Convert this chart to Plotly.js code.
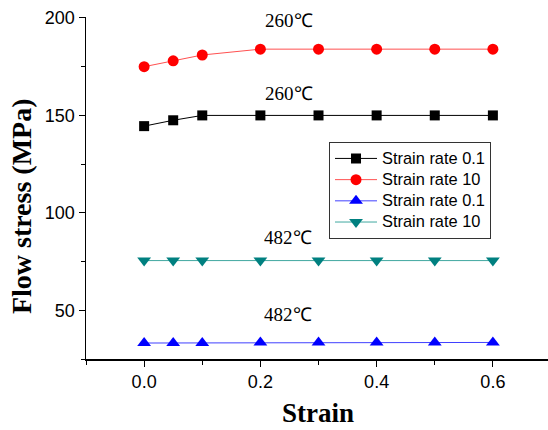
<!DOCTYPE html>
<html><head><meta charset="utf-8">
<script src="https://cdn.plot.ly/plotly-3.0.1.min.js"></script>
<style>html,body{margin:0;padding:0;background:#fff}#c{width:548px;height:430px}</style>
</head><body><div id="c"></div>
<script>
const strain = [0, 0.05, 0.1, 0.2, 0.3, 0.4, 0.5, 0.6];
const s260_01 = [144.5, 147.5, 150, 150, 150, 150, 150, 150];
const s260_10 = [175, 178, 181, 184, 184, 184, 184, 184];
const s482_01 = [33.2, 33.2, 33.2, 33.5, 33.5, 33.5, 33.5, 33.5];
const s482_10 = [75.5, 75.5, 75.5, 75.5, 75.5, 75.5, 75.5, 75.5];
const seriesNames = ['Strain rate 0.1', 'Strain rate 10', 'Strain rate 0.1', 'Strain rate 10'];
const xTickVals = [0, 0.2, 0.4, 0.6];
const xTickText = ['0.0', '0.2', '0.4', '0.6'];
const yTickVals = [50, 100, 150, 200];
const tempLabels = [
  {text: '260℃', x: 0.25, y: 198.5},
  {text: '260℃', x: 0.25, y: 161},
  {text: '482℃', x: 0.247, y: 87.5},
  {text: '482℃', x: 0.247, y: 48}
];

const big = s => '<span style="font-size:16.4px">' + s + '</span>';

const traces = [
  {x: strain, y: s260_01, name: big(seriesNames[0]), mode: 'lines+markers',
   line: {color: '#000000', width: 1}, marker: {symbol: 'square', size: 10, color: '#000000'}},
  {x: strain, y: s260_10, name: big(seriesNames[1]), mode: 'lines+markers',
   line: {color: '#ff5050', width: 1}, marker: {symbol: 'circle', size: 11, color: '#ff0000'}},
  {x: strain, y: s482_01, name: big(seriesNames[2]), mode: 'lines+markers',
   line: {color: '#4040ff', width: 1}, marker: {symbol: 'triangle-up', size: 12, color: '#0000ff'}},
  {x: strain, y: s482_10, name: big(seriesNames[3]), mode: 'lines+markers',
   line: {color: '#40a8a0', width: 1}, marker: {symbol: 'triangle-down', size: 12, color: '#008080'}}
];

const serif = 'Liberation Serif, Times New Roman, serif';
const sans = 'Liberation Sans, Arial, sans-serif';

const annotations = tempLabels.map(a => ({x: a.x, y: a.y, xref: 'x', yref: 'y', text: a.text, showarrow: false,
    font: {family: serif, size: 19, color: '#000'}}));
annotations.push({x: -0.1407, y: 0.447, xref: 'paper', yref: 'paper', text: '<b>Flow stress (MPa)</b>',
  textangle: -90, showarrow: false, xanchor: 'center', yanchor: 'middle',
  font: {family: serif, size: 28, color: '#000'}});
annotations.push({x: 0.502, y: -0.158, xref: 'paper', yref: 'paper', text: '<b>Strain</b>',
  showarrow: false, xanchor: 'center', yanchor: 'middle',
  font: {family: serif, size: 27, color: '#000'}});

const layout = {
  width: 548, height: 430,
  margin: {l: 86, r: 0, t: 17, b: 71},
  paper_bgcolor: '#fff', plot_bgcolor: '#fff',
  showlegend: true,
  legend: {x: 0.526, y: 0.635, xanchor: 'left', yanchor: 'top',
    bgcolor: '#fff', bordercolor: '#333', borderwidth: 1,
    font: {family: sans, size: 14, color: '#000'},
    tracegroupgap: 0, itemwidth: 42},
  xaxis: {range: [-0.1, 0.6948], tickvals: xTickVals, ticktext: xTickText,
    ticks: 'outside', ticklen: 6, tickwidth: 1, tickcolor: '#000',
    minor: {tickvals: [-0.1, 0.1, 0.3, 0.5, 0.7], ticks: 'outside', ticklen: 4, tickcolor: '#000'},
    showline: true, linecolor: '#000', linewidth: 1.5, showgrid: false, zeroline: false,
    tickfont: {family: sans, size: 18, color: '#000'}},
  yaxis: {range: [25, 200.5], tickvals: yTickVals,
    ticks: 'outside', ticklen: 6, tickwidth: 1, tickcolor: '#000',
    minor: {tickvals: [25, 75, 125, 175], ticks: 'outside', ticklen: 4, tickcolor: '#000'},
    showline: true, linecolor: '#000', linewidth: 1.5, showgrid: false, zeroline: false,
    tickfont: {family: sans, size: 18, color: '#000'}},
  annotations: annotations
};

Plotly.newPlot('c', traces, layout, {displayModeBar: false, staticPlot: true});
</script></body></html>
